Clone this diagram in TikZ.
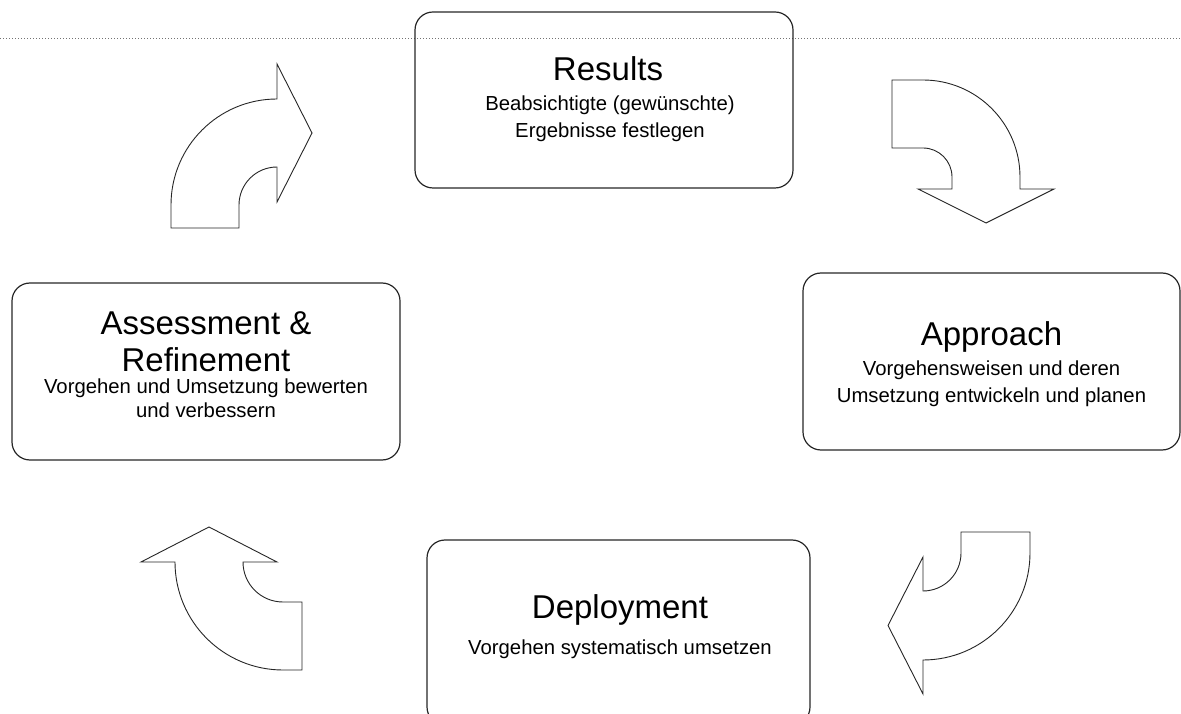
\documentclass[tikz,border=0pt]{standalone}
\usepackage{fontspec}
\setmainfont{Liberation Sans}
\tikzset{
  box/.style={draw=black!85, line width=1.2pt, rounded corners=18pt, inner sep=0pt},
  title/.style={anchor=base, inner sep=0pt, font=\fontsize{33}{33}\selectfont},
  sub/.style={anchor=base, inner sep=0pt, font=\fontsize{20.3}{20.3}\selectfont},
  arrowshape/.style={draw=black!85, line width=0.9pt, fill=white, line join=miter},
  pics/bentarrow/.style n args={6}{code={
    % #1 inner radius, #2 outer radius, #3 tail, #4 neck, #5 barb, #6 head length
    \pgfmathsetmacro\amid{(#1+#2)/2}
    \draw[arrowshape] (-#2,-#3) -- (-#2,0)
      arc[start angle=180,end angle=90,radius=#2]
      -- (#4,#2) -- (#4,#2+#5) -- (#4+#6,\amid) -- (#4,#1-#5) -- (#4,#1) -- (0,#1)
      arc[start angle=90,end angle=180,radius=#1]
      -- (-#1,-#3) -- cycle;
  }}
}
\begin{document}
\begin{tikzpicture}[x=1pt,y=1pt]
\useasboundingbox (0,0) rectangle (1181,713);
\clip (0,0) rectangle (1181,713);

% dotted page rule along the top
\draw[black!55, line width=0.8pt, dash pattern=on 0.8pt off 2.2pt] (0,674.7) -- (1181,674.7);

% the four stages
\node[box, minimum width=378pt, minimum height=176pt] (results) at (604,613) {};
\node[box, minimum width=377pt, minimum height=177pt] (approach) at (991.5,351.5) {};
\node[box, minimum width=383pt, minimum height=185pt] (deployment) at (618.5,80.5) {};
\node[box, minimum width=388pt, minimum height=177pt] (assessment) at (206,341.5) {};

% texts
\node[title] (rt) at (608,632) {Results};
\node[sub] (rs1) at (610,602) {Beabsichtigte (gewünschte)};
\node[sub] (rs2) at (610,575) {Ergebnisse festlegen};

\node[title] (at) at (991.5,367) {Approach};
\node[sub] (as1) at (991.5,337) {Vorgehensweisen und deren};
\node[sub] (as2) at (991.5,310) {Umsetzung entwickeln und planen};

\node[title] (dt) at (620,95) {Deployment};
\node[sub] (ds1) at (620,59) {Vorgehen systematisch umsetzen};

\node[title] (et1) at (206,378) {Assessment \&};
\node[title] (et2) at (206,341) {Refinement};
\node[sub] (es1) at (206,319) {Vorgehen und Umsetzung bewerten};
\node[sub] (es2) at (206,295) {und verbessern};

% curved block arrows of the cycle
\pic at (277,508) {bentarrow={38}{106}{23}{0}{35}{35}};
\pic[rotate=-90] at (923,536) {bentarrow={29}{97}{31}{12}{34}{34}};
\pic[rotate=180] at (923,160) {bentarrow={38}{107}{21}{0}{34}{35}};
\pic[rotate=90] at (283,151) {bentarrow={40}{108}{19}{0}{34}{35}};
\end{tikzpicture}
\end{document}
